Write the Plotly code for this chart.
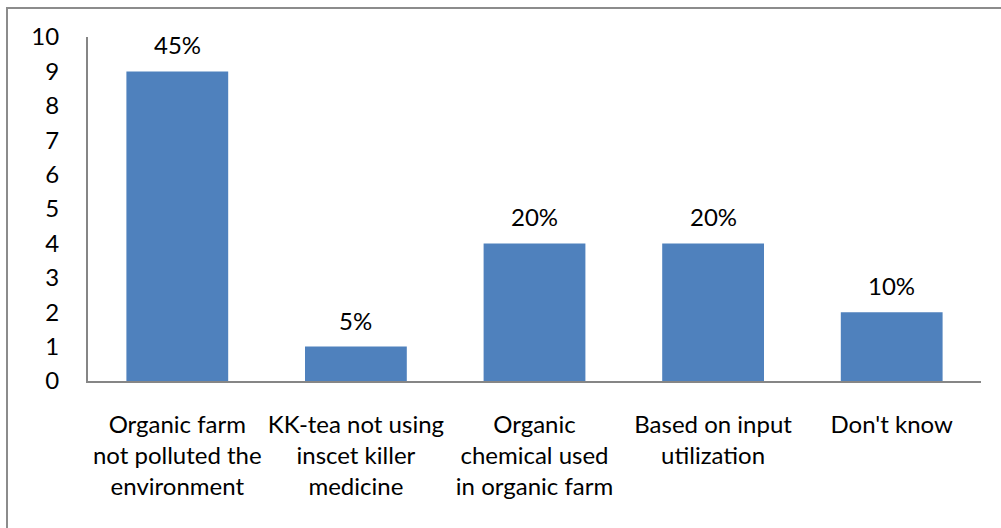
import plotly.graph_objects as go

# data
categories = [
    "Organic farm<br>not polluted the<br>environment",
    "KK-tea not using<br>inscet killer<br>medicine",
    "Organic<br>chemical used<br>in organic farm",
    "Based on input<br>utilization",
    "Don't know",
]
counts = [9, 1, 4, 4, 2]
pct_labels = ["45%", "5%", "20%", "20%", "10%"]
y_ticks = list(range(0, 11))

FONT = dict(family="Lato, 'Open Sans', sans-serif", size=24, color="#000000")
AXIS_GREY = "#868686"

fig = go.Figure()
fig.add_trace(go.Bar(
    x=categories,
    y=counts,
    marker=dict(color="#4F81BD", line=dict(width=0)),
    hoverinfo="skip",
))

# percentage labels above each bar
for cat, val, lab in zip(categories, counts, pct_labels):
    fig.add_annotation(
        x=cat, y=val, text=lab, showarrow=False,
        yanchor="bottom", yshift=10, font=FONT,
    )

# outer chart border (only left and top edges visible in the crop)
fig.add_shape(
    type="rect", xref="paper", yref="paper",
    x0=-0.0907, x1=1.2, y0=-0.7, y1=1.0843,
    line=dict(color="#8c8c8c", width=2), layer="below",
)

fig.update_layout(
    width=1001,
    height=528,
    margin=dict(l=88, r=20, t=37, b=147, autoexpand=False),
    plot_bgcolor="white",
    paper_bgcolor="white",
    font=FONT,
    bargap=0.43,
    showlegend=False,
)

fig.update_xaxes(
    showgrid=False, zeroline=False, automargin=False,
    showline=True, linecolor=AXIS_GREY, linewidth=2,
    ticks="", tickfont=FONT, ticklabelstandoff=21,
)
fig.update_yaxes(
    range=[0, 10], tickvals=y_ticks, automargin=False,
    showgrid=False, zeroline=False,
    showline=True, linecolor=AXIS_GREY, linewidth=2,
    ticks="", tickfont=FONT, ticklabelstandoff=22,
)

# drop the default body margin so the figure sits at the window origin
fig.write_html(
    "out.html",
    config={"displayModeBar": False},
    post_script="document.body.style.margin='0';",
)
